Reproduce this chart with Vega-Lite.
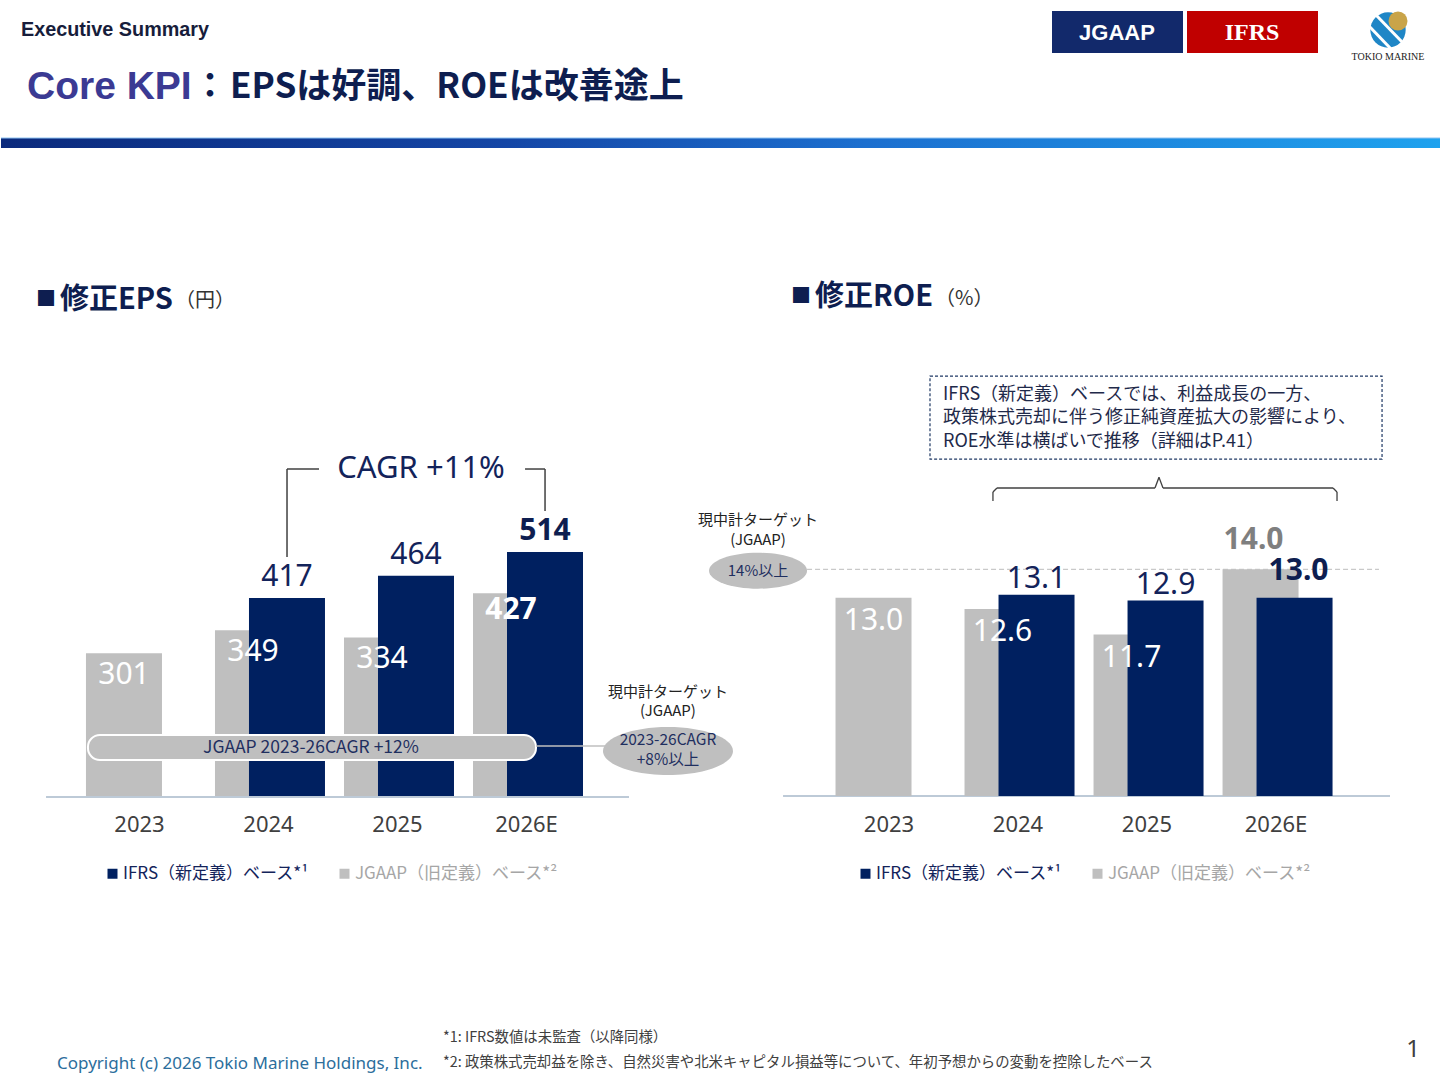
{
  "$schema": "https://vega.github.io/schema/vega-lite/v6.json",
  "padding": {"left": 0, "top": 0, "right": 0, "bottom": 10},
  "spacing": 0,
  "bounds": "flush",
  "background": "white",
  "config": {
    "view": {"stroke": null},
    "axis": {"domain": false, "ticks": false, "grid": false, "labels": false, "titlePadding": 0},
    "scale": {"continuousPadding": 0},
    "font": "Noto Sans CJK JP",
    "text": {"font": "Noto Sans CJK JP"}
  },
  "datasets": {
    "eps": [
      {"year": 2023, "series": "JGAAP", "value": 301},
      {"year": 2024, "series": "JGAAP", "value": 349},
      {"year": 2025, "series": "JGAAP", "value": 334},
      {"year": 2026, "series": "JGAAP", "value": 427},
      {"year": 2024, "series": "IFRS", "value": 417},
      {"year": 2025, "series": "IFRS", "value": 464},
      {"year": 2026, "series": "IFRS", "value": 514}
    ],
    "roe": [
      {"year": 2023, "series": "JGAAP", "value": 13.0},
      {"year": 2024, "series": "JGAAP", "value": 12.6},
      {"year": 2025, "series": "JGAAP", "value": 11.7},
      {"year": 2026, "series": "JGAAP", "value": 14.0},
      {"year": 2024, "series": "IFRS", "value": 13.1},
      {"year": 2025, "series": "IFRS", "value": 12.9},
      {"year": 2026, "series": "IFRS", "value": 13.0}
    ]
  },
  "vconcat": [
    {
      "width": 1440,
      "height": 150,
      "data": {"values": [{}]},
      "layer": [
        {
          "mark": {"type": "rect", "fill": {"gradient": "linear", "stops": [{"offset": 0, "color": "#0B2A7C"}, {"offset": 0.35, "color": "#1446A6"}, {"offset": 0.6, "color": "#1C6FCF"}, {"offset": 1, "color": "#1FA2EE"}]}},
          "encoding": {
            "x": {"datum": 0, "type": "quantitative", "scale": {"domain": [0, 1440], "nice": false, "zero": false, "padding": 0}, "axis": null},
            "x2": {"datum": 1440},
            "y": {"datum": 138, "type": "quantitative", "scale": {"domain": [0, 150], "nice": false, "zero": false, "reverse": true, "padding": 0}, "axis": null},
            "y2": {"datum": 148}
          }
        },
        {
          "mark": {"type": "rule", "color": "#8FC3F2", "strokeWidth": 1},
          "encoding": {"x": {"datum": 0}, "x2": {"datum": 1440}, "y": {"datum": 138}}
        },
        {
          "mark": {"type": "text", "text": "Executive Summary", "align": "left", "baseline": "middle", "font": "Liberation Sans", "fontWeight": "bold", "fontSize": 19.8, "color": "#171D3B"},
          "encoding": {"x": {"datum": 20}, "y": {"datum": 30}}
        },
        {
          "mark": {"type": "text", "text": "Core KPI", "align": "left", "baseline": "middle", "font": "Liberation Sans", "fontWeight": "bold", "fontSize": 39, "color": "#3B3A93"},
          "encoding": {"x": {"datum": 26}, "y": {"datum": 87}}
        },
        {
          "mark": {"type": "text", "text": "：", "align": "center", "baseline": "middle", "fontWeight": "bold", "fontSize": 35, "color": "#0E1E50"},
          "encoding": {"x": {"datum": 209}, "y": {"datum": 87}}
        },
        {
          "mark": {"type": "text", "text": "EPSは好調、ROEは改善途上", "align": "left", "baseline": "middle", "fontWeight": "bold", "fontSize": 35, "color": "#0E1E50"},
          "encoding": {"x": {"datum": 229}, "y": {"datum": 87}}
        },
        {
          "mark": {"type": "rect", "fill": "#12296B"},
          "encoding": {"x": {"datum": 1051}, "x2": {"datum": 1182}, "y": {"datum": 11}, "y2": {"datum": 53}}
        },
        {
          "mark": {"type": "rect", "fill": "#C00000"},
          "encoding": {"x": {"datum": 1186}, "x2": {"datum": 1317}, "y": {"datum": 11}, "y2": {"datum": 53}}
        },
        {
          "mark": {"type": "text", "text": "JGAAP", "align": "center", "baseline": "middle", "font": "Liberation Sans", "fontWeight": "bold", "fontSize": 22, "color": "white"},
          "encoding": {"x": {"datum": 1116}, "y": {"datum": 33}}
        },
        {
          "mark": {"type": "text", "text": "IFRS", "align": "center", "baseline": "middle", "font": "Liberation Serif", "fontWeight": "bold", "fontSize": 24, "color": "white"},
          "encoding": {"x": {"datum": 1251}, "y": {"datum": 33}}
        },
        {
          "mark": {"type": "point", "shape": "circle", "filled": true, "size": 1250, "fill": "#1F86C6", "opacity": 1, "strokeWidth": 0},
          "encoding": {"x": {"datum": 1387}, "y": {"datum": 30}}
        },
        {
          "mark": {"type": "point", "shape": "circle", "filled": true, "size": 360, "fill": "#C9A449", "opacity": 1, "strokeWidth": 0},
          "encoding": {"x": {"datum": 1397}, "y": {"datum": 21}}
        },
        {
          "mark": {"type": "rule", "color": "white", "strokeWidth": 3},
          "encoding": {"x": {"datum": 1367}, "x2": {"datum": 1391}, "y": {"datum": 25}, "y2": {"datum": 50}}
        },
        {
          "mark": {"type": "rule", "color": "white", "strokeWidth": 3},
          "encoding": {"x": {"datum": 1374}, "x2": {"datum": 1404}, "y": {"datum": 14}, "y2": {"datum": 45}}
        },
        {
          "mark": {"type": "text", "text": "TOKIO MARINE", "align": "center", "baseline": "middle", "font": "Liberation Serif", "fontSize": 10, "color": "#222222"},
          "encoding": {"x": {"datum": 1387}, "y": {"datum": 57}}
        }
      ]
    },
    {
      "spacing": 0,
      "bounds": "flush",
      "resolve": {"scale": {"color": "independent"}, "legend": {"color": "independent"}},
      "hconcat": [
        {
          "width": 720,
          "height": 646,
          "data": {"values": [{}]},
          "layer": [
            {
              "mark": {"type": "text", "text": "■", "align": "left", "baseline": "middle", "fontSize": 20, "color": "#0E1E50"},
              "encoding": {
                "x": {
                  "datum": 2022.186, "type": "quantitative",
                  "scale": {"domain": [2021.915, 2027.496], "nice": false, "zero": false, "padding": 0},
                  "axis": {"orient": "bottom", "values": [2023, 2024, 2025, 2026], "labelExpr": "datum.value == 2026 ? '2026E' : format(datum.value, 'd')", "domain": false, "ticks": false, "grid": false, "title": null, "labels": true, "labelFontSize": 22, "labelColor": "#404040", "labelFont": "Noto Sans", "labelPadding": 18, "labelOffset": -2, "labelFlush": false, "labelOverlap": false}
                },
                "y": {"datum": 1044.9, "type": "quantitative", "scale": {"domain": [0, 1361], "nice": false, "zero": false, "padding": 0}, "axis": {"title": null, "labels": false}}
              }
            },
            {
              "mark": {"type": "text", "text": "修正EPS", "align": "left", "baseline": "middle", "fontSize": 29, "fontWeight": "bold", "color": "#0E1E50"},
              "encoding": {"x": {"datum": 2022.372}, "y": {"datum": 1044.9}}
            },
            {
              "mark": {"type": "text", "text": "（円）", "align": "left", "baseline": "middle", "fontSize": 20, "color": "#333333"},
              "encoding": {"x": {"datum": 2023.264}, "y": {"datum": 1042}}
            },
            {
              "mark": {"type": "rule", "color": "#A7B8CA", "strokeWidth": 1.5},
              "encoding": {"x": {"datum": 2022.264}, "x2": {"datum": 2026.783}, "y": {"datum": -2}}
            },
            {
              "data": {"name": "eps"},
              "transform": [{"filter": "datum.series == 'JGAAP'"}],
              "mark": {"type": "bar", "orient": "vertical", "width": 76, "xOffset": -17},
              "encoding": {
                "x": {"field": "year", "type": "quantitative", "title": null},
                "y": {"field": "value", "type": "quantitative", "title": null},
                "color": {
                  "field": "series", "type": "nominal",
                  "scale": {"domain": ["IFRS", "JGAAP"], "range": ["#002060", "#BFBFBF"]},
                  "legend": {"orient": "none", "legendX": 103, "legendY": 715, "direction": "horizontal", "title": null, "symbolType": "square", "symbolSize": 100, "symbolStrokeWidth": 0, "labelFontSize": 17, "labelFont": "Noto Sans CJK JP", "labelOffset": 2, "columnPadding": 27, "labelLimit": 400, "labelExpr": "datum.value == 'IFRS' ? 'IFRS（新定義）ベース*¹' : 'JGAAP（旧定義）ベース*²'", "encode": {"labels": {"update": {"fill": {"signal": "datum.value == 'IFRS' ? '#13235A' : '#A6A6A6'"}}}}}
                }
              }
            },
            {
              "data": {"name": "eps"},
              "transform": [{"filter": "datum.series == 'IFRS'"}],
              "mark": {"type": "bar", "orient": "vertical", "width": 76, "xOffset": 17},
              "encoding": {
                "x": {"field": "year", "type": "quantitative", "title": null},
                "y": {"field": "value", "type": "quantitative", "title": null},
                "color": {"field": "series", "type": "nominal"}
              }
            },
            {
              "data": {"name": "eps"},
              "transform": [{"filter": "datum.series == 'JGAAP' && datum.year < 2026"}],
              "mark": {"type": "text", "font": "Noto Sans", "fontSize": 30, "color": "white", "baseline": "middle", "dy": 22, "xOffset": -17},
              "encoding": {"x": {"field": "year", "type": "quantitative", "title": null}, "y": {"field": "value", "type": "quantitative", "title": null}, "text": {"field": "value", "type": "quantitative", "format": "d"}}
            },
            {
              "data": {"name": "eps"},
              "transform": [{"filter": "datum.series == 'JGAAP' && datum.year == 2026"}],
              "mark": {"type": "text", "font": "Noto Sans", "fontSize": 30, "fontWeight": "bold", "color": "white", "baseline": "middle", "dy": 17, "xOffset": -17},
              "encoding": {"x": {"field": "year", "type": "quantitative", "title": null}, "y": {"field": "value", "type": "quantitative", "title": null}, "text": {"field": "value", "type": "quantitative", "format": "d"}}
            },
            {
              "data": {"name": "eps"},
              "transform": [{"filter": "datum.series == 'IFRS' && datum.year < 2026"}],
              "mark": {"type": "text", "font": "Noto Sans", "fontSize": 30, "color": "#13235A", "baseline": "middle", "dy": -21, "xOffset": 17},
              "encoding": {"x": {"field": "year", "type": "quantitative", "title": null}, "y": {"field": "value", "type": "quantitative", "title": null}, "text": {"field": "value", "type": "quantitative", "format": "d"}}
            },
            {
              "data": {"name": "eps"},
              "transform": [{"filter": "datum.series == 'IFRS' && datum.year == 2026"}],
              "mark": {"type": "text", "font": "Noto Sans", "fontSize": 30, "fontWeight": "bold", "color": "#0E1E50", "baseline": "middle", "dy": -21, "xOffset": 17},
              "encoding": {"x": {"field": "year", "type": "quantitative", "title": null}, "y": {"field": "value", "type": "quantitative", "title": null}, "text": {"field": "value", "type": "quantitative", "format": "d"}}
            },
            {
              "mark": {"type": "rule", "color": "#404040", "strokeWidth": 1.5},
              "encoding": {"x": {"datum": 2024.132}, "y": {"datum": 503.5}, "y2": {"datum": 688.9}}
            },
            {
              "mark": {"type": "rule", "color": "#404040", "strokeWidth": 1.5},
              "encoding": {"x": {"datum": 2024.132}, "x2": {"datum": 2024.38}, "y": {"datum": 688.9}}
            },
            {
              "mark": {"type": "rule", "color": "#404040", "strokeWidth": 1.5},
              "encoding": {"x": {"datum": 2025.977}, "x2": {"datum": 2026.132}, "y": {"datum": 688.9}}
            },
            {
              "mark": {"type": "rule", "color": "#404040", "strokeWidth": 1.5},
              "encoding": {"x": {"datum": 2026.132}, "y": {"datum": 600.4}, "y2": {"datum": 688.9}}
            },
            {
              "mark": {"type": "text", "text": "CAGR +11%", "align": "center", "baseline": "middle", "font": "Noto Sans", "fontSize": 31, "color": "#13235A"},
              "encoding": {"x": {"datum": 2025.171}, "y": {"datum": 688.9}}
            },
            {
              "mark": {"type": "rect", "fill": "#BFBFBF", "stroke": "white", "strokeWidth": 2, "cornerRadius": 12},
              "encoding": {"x": {"datum": 2022.589}, "x2": {"datum": 2026.062}, "y": {"datum": 128.5}, "y2": {"datum": 75.8}}
            },
            {
              "mark": {"type": "text", "text": "JGAAP 2023-26CAGR +12%", "align": "center", "baseline": "middle", "fontSize": 17.5, "color": "#1F2F5F"},
              "encoding": {"x": {"datum": 2024.318}, "y": {"datum": 101.1}}
            },
            {
              "mark": {"type": "rule", "color": "#BFBFBF", "strokeWidth": 1.5},
              "encoding": {"x": {"datum": 2026.062}, "x2": {"datum": 2026.6}, "y": {"datum": 105.3}}
            },
            {
              "mark": {"type": "point", "filled": true, "fill": "#BFBFBF", "opacity": 1, "strokeWidth": 0, "size": 16900, "shape": "M -1 0 C -1 -0.203 -0.552 -0.369 0 -0.369 C 0.552 -0.369 1 -0.203 1 0 C 1 0.203 0.552 0.369 0 0.369 C -0.552 0.369 -1 0.203 -1 0 Z"},
              "encoding": {"x": {"datum": 2027.085}, "y": {"datum": 94.8}}
            },
            {
              "mark": {"type": "text", "text": "2023-26CAGR", "align": "center", "baseline": "middle", "fontSize": 15.5, "color": "#1F2F5F"},
              "encoding": {"x": {"datum": 2027.085}, "y": {"datum": 118}}
            },
            {
              "mark": {"type": "text", "text": "+8%以上", "align": "center", "baseline": "middle", "fontSize": 15.5, "color": "#1F2F5F"},
              "encoding": {"x": {"datum": 2027.085}, "y": {"datum": 75.8}}
            },
            {
              "mark": {"type": "text", "text": "現中計ターゲット", "align": "center", "baseline": "middle", "fontSize": 15, "color": "#222222"},
              "encoding": {"x": {"datum": 2027.085}, "y": {"datum": 219.1}}
            },
            {
              "mark": {"type": "text", "text": "(JGAAP)", "align": "center", "baseline": "middle", "fontSize": 15, "color": "#222222"},
              "encoding": {"x": {"datum": 2027.085}, "y": {"datum": 179.1}}
            },
            {
              "mark": {"type": "text", "text": "*1: IFRS数値は未監査（以降同様）", "align": "left", "baseline": "middle", "fontSize": 14.4, "color": "#404040"},
              "encoding": {"x": {"datum": 2025.341}, "y": {"datum": -510}}
            },
            {
              "mark": {"type": "text", "text": "*2: 政策株式売却益を除き、自然災害や北米キャピタル損益等について、年初予想からの変動を控除したベース", "align": "left", "baseline": "middle", "fontSize": 14.4, "color": "#404040"},
              "encoding": {"x": {"datum": 2025.341}, "y": {"datum": -562.5}}
            },
            {
              "mark": {"type": "text", "text": "Copyright (c) 2026 Tokio Marine Holdings, Inc.", "align": "left", "baseline": "middle", "font": "Noto Sans", "fontSize": 17, "color": "#2C6E9C"},
              "encoding": {"x": {"datum": 2022.349}, "y": {"datum": -564.6}}
            }
          ]
        },
        {
          "width": 720,
          "height": 646,
          "data": {"values": [{}]},
          "layer": [
            {
              "mark": {"type": "text", "text": "■", "align": "left", "baseline": "middle", "fontSize": 20, "color": "#0E1E50"},
              "encoding": {
                "x": {
                  "datum": 2022.229, "type": "quantitative",
                  "scale": {"domain": [2021.686, 2027.267], "nice": false, "zero": false, "padding": 0},
                  "axis": {"orient": "bottom", "values": [2023, 2024, 2025, 2026], "labelExpr": "datum.value == 2026 ? '2026E' : format(datum.value, 'd')", "domain": false, "ticks": false, "grid": false, "title": null, "labels": true, "labelFontSize": 22, "labelColor": "#404040", "labelFont": "Noto Sans", "labelPadding": 18, "labelOffset": -2, "labelFlush": false, "labelOverlap": false}
                },
                "y": {"datum": 23.6, "type": "quantitative", "scale": {"domain": [6, 28.8], "nice": false, "zero": false, "padding": 0}, "axis": {"title": null, "labels": false}}
              }
            },
            {
              "mark": {"type": "text", "text": "修正ROE", "align": "left", "baseline": "middle", "fontSize": 29, "fontWeight": "bold", "color": "#0E1E50"},
              "encoding": {"x": {"datum": 2022.415}, "y": {"datum": 23.6}}
            },
            {
              "mark": {"type": "text", "text": "（%）", "align": "left", "baseline": "middle", "fontSize": 20, "color": "#333333"},
              "encoding": {"x": {"datum": 2023.345}, "y": {"datum": 23.55}}
            },
            {
              "mark": {"type": "rule", "color": "#C9C9C9", "strokeWidth": 1.3, "strokeDash": [5, 3]},
              "encoding": {"x": {"datum": 2022.353}, "x2": {"datum": 2026.786}, "y": {"datum": 14}}
            },
            {
              "mark": {"type": "rule", "color": "#A7B8CA", "strokeWidth": 1.5},
              "encoding": {"x": {"datum": 2022.167}, "x2": {"datum": 2026.872}, "y": {"datum": 6}}
            },
            {
              "data": {"name": "roe"},
              "transform": [{"filter": "datum.series == 'JGAAP'"}],
              "mark": {"type": "bar", "orient": "vertical", "width": 76, "xOffset": -17},
              "encoding": {
                "x": {"field": "year", "type": "quantitative", "title": null},
                "y": {"field": "value", "type": "quantitative", "title": null},
                "y2": {"datum": 6},
                "color": {
                  "field": "series", "type": "nominal",
                  "scale": {"domain": ["IFRS", "JGAAP"], "range": ["#002060", "#BFBFBF"]},
                  "legend": {"orient": "none", "legendX": 136, "legendY": 715, "direction": "horizontal", "title": null, "symbolType": "square", "symbolSize": 100, "symbolStrokeWidth": 0, "labelFontSize": 17, "labelFont": "Noto Sans CJK JP", "labelOffset": 2, "columnPadding": 27, "labelLimit": 400, "labelExpr": "datum.value == 'IFRS' ? 'IFRS（新定義）ベース*¹' : 'JGAAP（旧定義）ベース*²'", "encode": {"labels": {"update": {"fill": {"signal": "datum.value == 'IFRS' ? '#13235A' : '#A6A6A6'"}}}}}
                }
              }
            },
            {
              "data": {"name": "roe"},
              "transform": [{"filter": "datum.series == 'IFRS'"}],
              "mark": {"type": "bar", "orient": "vertical", "width": 76, "xOffset": 17},
              "encoding": {
                "x": {"field": "year", "type": "quantitative", "title": null},
                "y": {"field": "value", "type": "quantitative", "title": null},
                "y2": {"datum": 6},
                "color": {"field": "series", "type": "nominal"}
              }
            },
            {
              "data": {"name": "roe"},
              "transform": [{"filter": "datum.series == 'JGAAP' && datum.year < 2026"}],
              "mark": {"type": "text", "font": "Noto Sans", "fontSize": 30, "color": "white", "baseline": "middle", "dy": 23, "xOffset": -17},
              "encoding": {"x": {"field": "year", "type": "quantitative", "title": null}, "y": {"field": "value", "type": "quantitative", "title": null}, "text": {"field": "value", "type": "quantitative", "format": ".1f"}}
            },
            {
              "data": {"name": "roe"},
              "transform": [{"filter": "datum.series == 'JGAAP' && datum.year == 2026"}],
              "mark": {"type": "text", "font": "Noto Sans", "fontSize": 30, "fontWeight": "bold", "color": "#7F7F7F", "baseline": "middle", "dy": -29, "xOffset": -24},
              "encoding": {"x": {"field": "year", "type": "quantitative", "title": null}, "y": {"field": "value", "type": "quantitative", "title": null}, "text": {"field": "value", "type": "quantitative", "format": ".1f"}}
            },
            {
              "data": {"name": "roe"},
              "transform": [{"filter": "datum.series == 'IFRS' && datum.year < 2026"}],
              "mark": {"type": "text", "font": "Noto Sans", "fontSize": 30, "color": "#13235A", "baseline": "middle", "dy": -16, "xOffset": 17},
              "encoding": {"x": {"field": "year", "type": "quantitative", "title": null}, "y": {"field": "value", "type": "quantitative", "title": null}, "text": {"field": "value", "type": "quantitative", "format": ".1f"}}
            },
            {
              "data": {"name": "roe"},
              "transform": [{"filter": "datum.series == 'IFRS' && datum.year == 2026"}],
              "mark": {"type": "text", "font": "Noto Sans", "fontSize": 30, "fontWeight": "bold", "color": "#0E1E50", "baseline": "middle", "dy": -27, "xOffset": 21},
              "encoding": {"x": {"field": "year", "type": "quantitative", "title": null}, "y": {"field": "value", "type": "quantitative", "title": null}, "text": {"field": "value", "type": "quantitative", "format": ".1f"}}
            },
            {
              "mark": {"type": "point", "filled": true, "fill": "#BFBFBF", "opacity": 1, "strokeWidth": 0, "size": 9604, "shape": "M -1 0 C -1 -0.203 -0.552 -0.367 0 -0.367 C 0.552 -0.367 1 -0.203 1 0 C 1 0.203 0.552 0.367 0 0.367 C -0.552 0.367 -1 0.203 -1 0 Z"},
              "encoding": {"x": {"datum": 2021.973}, "y": {"datum": 13.95}}
            },
            {
              "mark": {"type": "text", "text": "14%以上", "align": "center", "baseline": "middle", "fontSize": 15, "color": "#1F2F5F"},
              "encoding": {"x": {"datum": 2021.973}, "y": {"datum": 13.95}}
            },
            {
              "mark": {"type": "text", "text": "現中計ターゲット", "align": "center", "baseline": "middle", "fontSize": 15, "color": "#222222"},
              "encoding": {"x": {"datum": 2021.973}, "y": {"datum": 15.74}}
            },
            {
              "mark": {"type": "text", "text": "(JGAAP)", "align": "center", "baseline": "middle", "fontSize": 15, "color": "#222222"},
              "encoding": {"x": {"datum": 2021.973}, "y": {"datum": 15.035}}
            },
            {
              "mark": {"type": "rule", "color": "#404040", "strokeWidth": 1.3},
              "encoding": {"x": {"datum": 2023.794}, "y": {"datum": 16.41}, "y2": {"datum": 16.73}}
            },
            {
              "mark": {"type": "rule", "color": "#404040", "strokeWidth": 1.3},
              "encoding": {"x": {"datum": 2023.794}, "x2": {"datum": 2023.825}, "y": {"datum": 16.73}, "y2": {"datum": 16.87}}
            },
            {
              "mark": {"type": "rule", "color": "#404040", "strokeWidth": 1.3},
              "encoding": {"x": {"datum": 2023.825}, "x2": {"datum": 2025.05}, "y": {"datum": 16.87}}
            },
            {
              "mark": {"type": "rule", "color": "#404040", "strokeWidth": 1.3},
              "encoding": {"x": {"datum": 2025.05}, "x2": {"datum": 2025.081}, "y": {"datum": 16.87}, "y2": {"datum": 17.25}}
            },
            {
              "mark": {"type": "rule", "color": "#404040", "strokeWidth": 1.3},
              "encoding": {"x": {"datum": 2025.081}, "x2": {"datum": 2025.112}, "y": {"datum": 17.25}, "y2": {"datum": 16.87}}
            },
            {
              "mark": {"type": "rule", "color": "#404040", "strokeWidth": 1.3},
              "encoding": {"x": {"datum": 2025.112}, "x2": {"datum": 2026.43}, "y": {"datum": 16.87}}
            },
            {
              "mark": {"type": "rule", "color": "#404040", "strokeWidth": 1.3},
              "encoding": {"x": {"datum": 2026.43}, "x2": {"datum": 2026.461}, "y": {"datum": 16.87}, "y2": {"datum": 16.73}}
            },
            {
              "mark": {"type": "rule", "color": "#404040", "strokeWidth": 1.3},
              "encoding": {"x": {"datum": 2026.461}, "y": {"datum": 16.41}, "y2": {"datum": 16.73}}
            },
            {
              "mark": {"type": "rect", "fill": "white", "stroke": "#1F3864", "strokeWidth": 1.2, "strokeDash": [3, 2]},
              "encoding": {"x": {"datum": 2023.306}, "x2": {"datum": 2026.81}, "y": {"datum": 20.82}, "y2": {"datum": 17.89}}
            },
            {
              "mark": {"type": "text", "text": "IFRS（新定義）ベースでは、利益成長の一方、", "align": "left", "baseline": "middle", "fontSize": 18, "color": "#1F2A4A"},
              "encoding": {"x": {"datum": 2023.407}, "y": {"datum": 20.17}}
            },
            {
              "mark": {"type": "text", "text": "政策株式売却に伴う修正純資産拡大の影響により、", "align": "left", "baseline": "middle", "fontSize": 18, "color": "#1F2A4A"},
              "encoding": {"x": {"datum": 2023.407}, "y": {"datum": 19.34}}
            },
            {
              "mark": {"type": "text", "text": "ROE水準は横ばいで推移（詳細はP.41）", "align": "left", "baseline": "middle", "fontSize": 18, "color": "#1F2A4A"},
              "encoding": {"x": {"datum": 2023.407}, "y": {"datum": 18.49}}
            },
            {
              "mark": {"type": "text", "text": "1", "align": "center", "baseline": "middle", "font": "Noto Sans", "fontSize": 24, "color": "#404040"},
              "encoding": {"x": {"datum": 2027.05}, "y": {"datum": -2.965}}
            }
          ]
        }
      ]
    }
  ]
}
